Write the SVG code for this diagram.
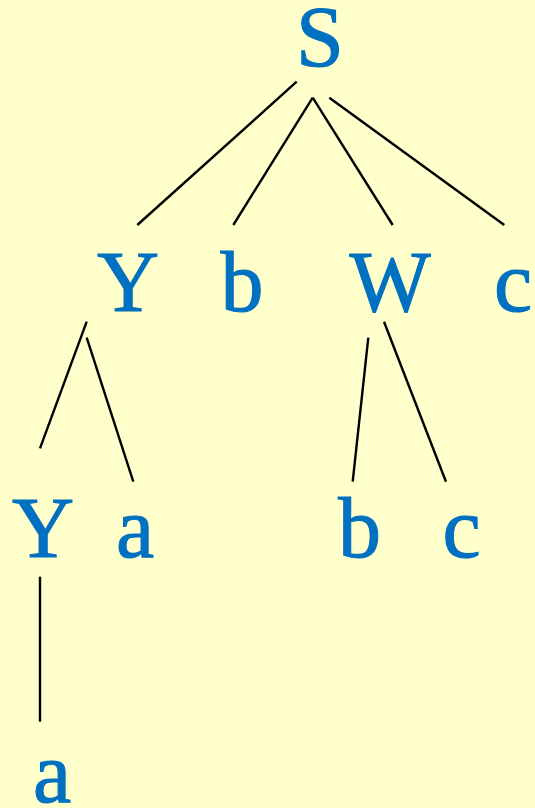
<svg xmlns="http://www.w3.org/2000/svg" width="535" height="808" viewBox="0 0 535 808">
<style>
.t{font-family:"Liberation Serif","Times New Roman",serif;font-size:86px;fill:#0070C0;stroke:#0070C0;stroke-width:1.1;text-anchor:middle}
.e line{stroke:#000;stroke-width:2.4;fill:none}
</style>
<rect width="535" height="808" fill="#FFFFCC"/>
<g class="e" id="connectors">
<line x1="296.7" y1="81.7" x2="137.3" y2="225"/>
<line x1="312.7" y1="97.7" x2="233.3" y2="225"/>
<line x1="312.7" y1="97.7" x2="392.7" y2="225"/>
<line x1="329.3" y1="97.7" x2="504.3" y2="225"/>
<line x1="86.7" y1="321.7" x2="40" y2="448.3"/>
<line x1="86.7" y1="337.7" x2="133.3" y2="481.7"/>
<line x1="368.3" y1="337.7" x2="352.7" y2="481.7"/>
<line x1="384" y1="321.7" x2="446" y2="481.7"/>
<line x1="40" y1="576.7" x2="40" y2="721.7"/>
</g>
<g id="S"><text class="t" x="320" y="66">S</text></g>
<g id="Y1"><text class="t" x="128" y="311">Y</text></g>
<g id="b1"><text class="t" x="242" y="311">b</text></g>
<g id="W"><text class="t" x="390" y="311">W</text></g>
<g id="c1"><text class="t" x="513" y="311">c</text></g>
<g id="Y2"><text class="t" x="43" y="557">Y</text></g>
<g id="a1"><text class="t" x="135" y="557">a</text></g>
<g id="b2"><text class="t" x="359.5" y="557">b</text></g>
<g id="c2"><text class="t" x="461.5" y="557">c</text></g>
<g id="a2"><text class="t" x="52" y="802">a</text></g>
</svg>
